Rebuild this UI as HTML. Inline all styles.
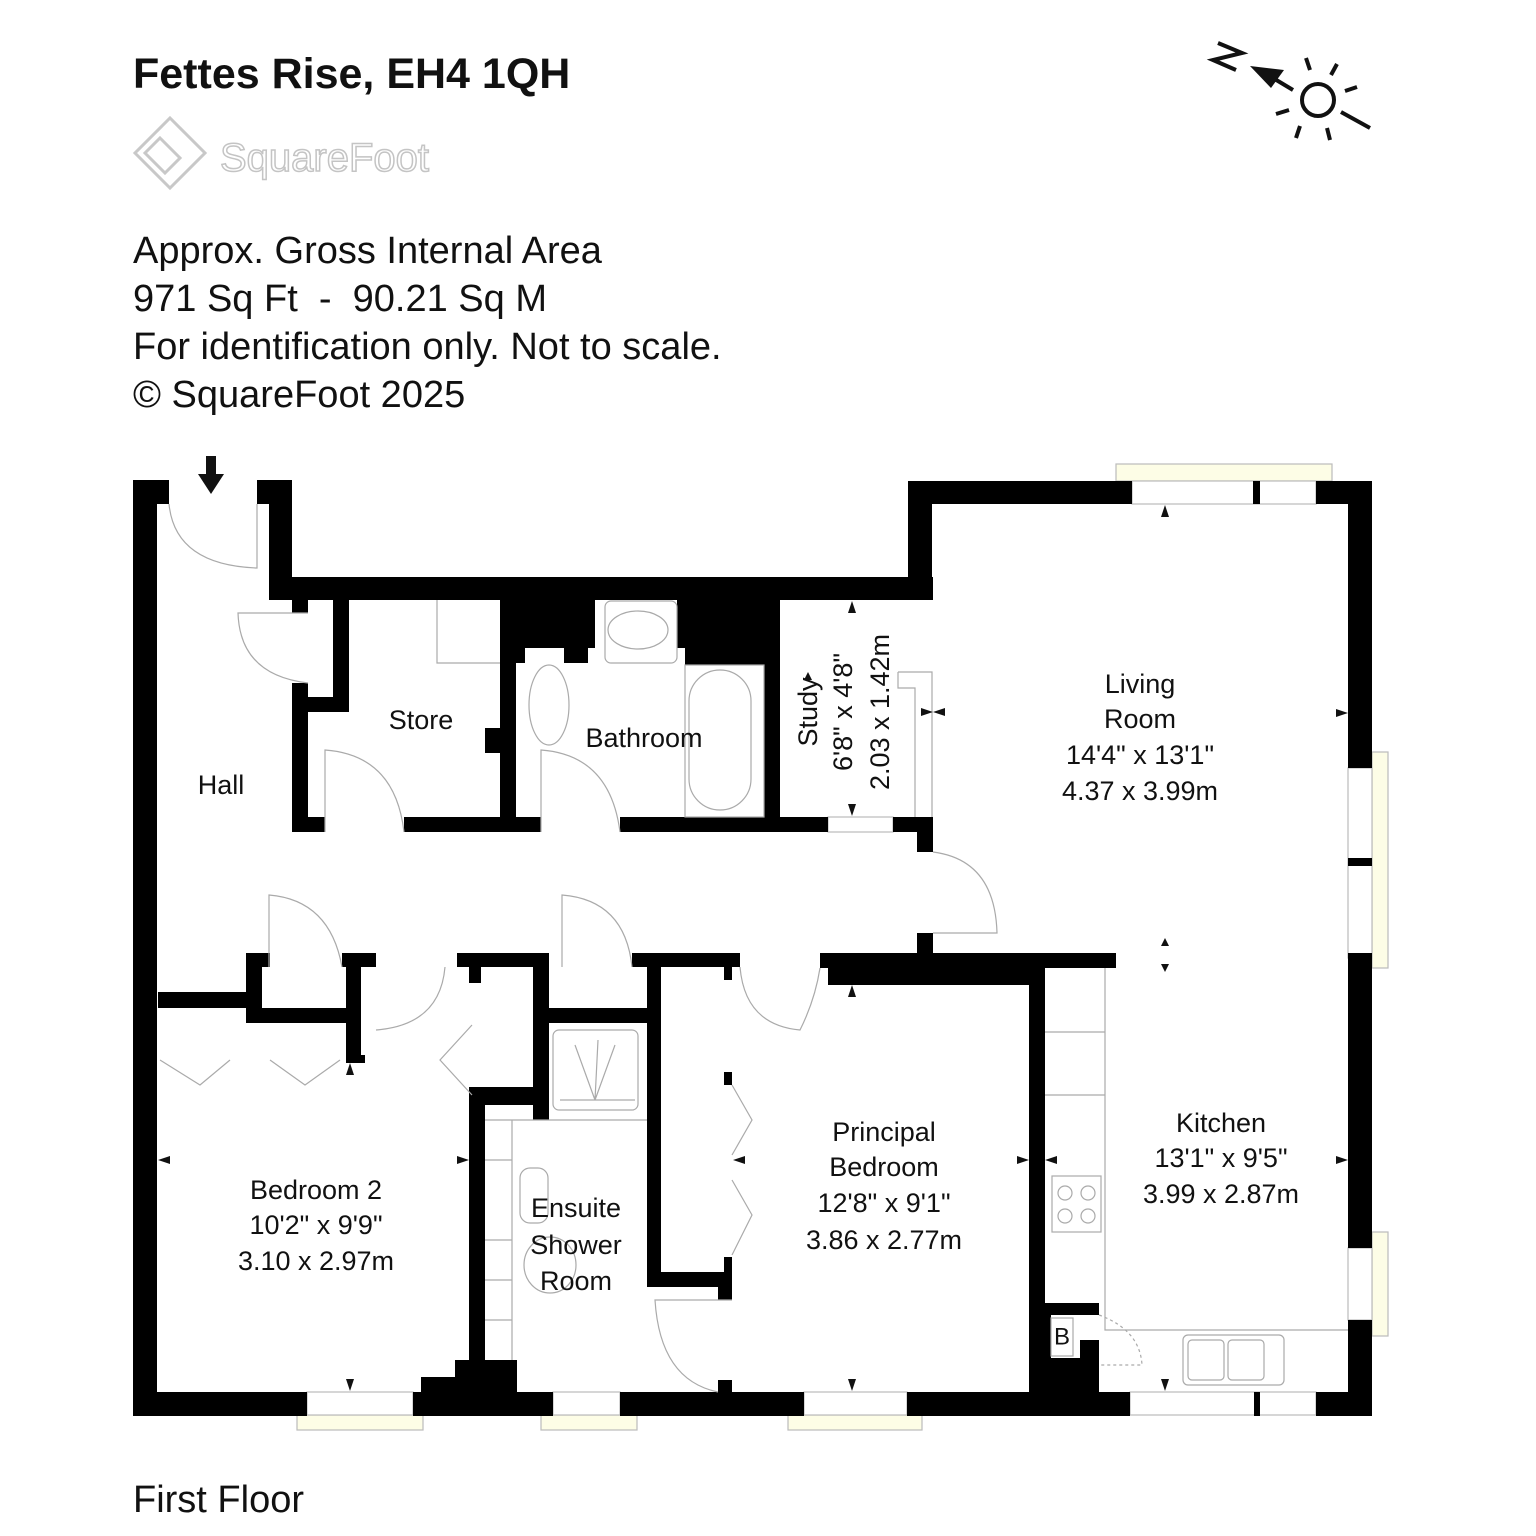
<!DOCTYPE html>
<html><head><meta charset="utf-8"><style>
html,body{margin:0;padding:0;background:#fff}
svg{display:block}
text{font-family:"Liberation Sans",sans-serif;fill:#111}
.r{font-size:27px;text-anchor:middle;dominant-baseline:central}
.h{font-size:38px}
.g{fill:none;stroke:#aaa;stroke-width:1.2}
</style></head><body>
<svg width="1536" height="1536" viewBox="0 0 1536 1536" xmlns="http://www.w3.org/2000/svg">
<rect width="1536" height="1536" fill="#fff"/>
<text x="133" y="88" style="font-size:43px;font-weight:bold">Fettes Rise, EH4 1QH</text>
<g fill="none" stroke="#c8c8c8" stroke-width="3">
<path d="M170 118 L205 153 L170 188 L135 153 Z"/><path d="M160 138 L180 158 L165 173 L145 153 Z"/>
</g>
<text x="220" y="171" style="font-size:40px;fill:#fff;stroke:#c4c4c4;stroke-width:1.5">SquareFoot</text>
<text x="133" y="263" class="h">Approx. Gross Internal Area</text>
<text x="133" y="311" class="h">971 Sq Ft &#160;- &#160;90.21 Sq M</text>
<text x="133" y="359" class="h">For identification only. Not to scale.</text>
<text x="133" y="407" class="h">© SquareFoot 2025</text>
<text x="133" y="1512" class="h">First Floor</text>
<g stroke="#111" stroke-width="4" fill="none">
<path d="M1218 43 L1242 53 L1213 60 L1236 70"/>
<line x1="1273" y1="78" x2="1293" y2="90"/>
<circle cx="1318" cy="100" r="16"/>
<line x1="1306" y1="58" x2="1310" y2="70"/><line x1="1337" y1="64" x2="1331" y2="75"/>
<line x1="1345" y1="91" x2="1357" y2="87"/><line x1="1276" y1="114" x2="1289" y2="110"/>
<line x1="1300" y1="126" x2="1296" y2="138"/><line x1="1327" y1="128" x2="1330" y2="140"/>
<line x1="1341" y1="112" x2="1370" y2="128"/>
</g>
<polygon points="1250,66 1284,70 1271,88" fill="#111"/>
<rect x="206" y="456" width="10" height="20" fill="#111"/><polygon points="198,474 224,474 211,494" fill="#111"/>
<g fill="#fdfde6" stroke="#bbb" stroke-width="1.2">
<rect x="1116" y="464" width="216" height="17"/>
<rect x="1372" y="752" width="16" height="216"/>
<rect x="1372" y="1232" width="16" height="104"/>
<rect x="297" y="1415" width="126" height="15"/>
<rect x="541" y="1415" width="96" height="15"/>
<rect x="788" y="1415" width="134" height="15"/>
</g>
<g fill="#fff" stroke="#bbb" stroke-width="1.2">
<rect x="1132" y="481" width="184" height="23"/>
<rect x="1348" y="768" width="24" height="190"/>
<rect x="1348" y="1248" width="24" height="72"/>
<rect x="307" y="1392" width="106" height="23"/>
<rect x="553" y="1392" width="67" height="23"/>
<rect x="804" y="1392" width="103" height="23"/>
<rect x="1130" y="1392" width="186" height="23"/>
<rect x="828" y="817" width="65" height="15"/>
</g>
<g fill="#000">
<rect x="133" y="480" width="24" height="936"/>
<rect x="133" y="480" width="36" height="24"/>
<rect x="257" y="480" width="35" height="24"/>
<rect x="269" y="480" width="23" height="120"/>
<rect x="269" y="577" width="664" height="23"/>
<rect x="908" y="481" width="24" height="119"/>
<rect x="908" y="481" width="224" height="23"/>
<rect x="1253" y="481" width="7" height="23"/>
<rect x="1316" y="481" width="56" height="23"/>
<rect x="1348" y="481" width="24" height="287"/>
<rect x="1348" y="858" width="24" height="8"/>
<rect x="1348" y="953" width="24" height="295"/>
<rect x="1348" y="1320" width="24" height="95"/>
<rect x="292" y="600" width="16" height="13"/>
<rect x="292" y="683" width="16" height="149"/>
<rect x="333" y="600" width="16" height="112"/>
<rect x="292" y="697" width="57" height="15"/>
<rect x="292" y="817" width="33" height="15"/>
<rect x="404" y="817" width="137" height="15"/>
<rect x="500" y="600" width="16" height="232"/>
<rect x="485" y="728" width="16" height="25"/>
<rect x="500" y="600" width="95" height="48"/>
<rect x="516" y="648" width="9" height="15"/>
<rect x="564" y="648" width="24" height="15"/>
<rect x="677" y="600" width="103" height="48"/>
<rect x="685" y="620" width="95" height="45"/>
<rect x="764" y="600" width="16" height="232"/>
<rect x="620" y="817" width="208" height="15"/>
<rect x="893" y="817" width="40" height="15"/>
<rect x="917" y="817" width="16" height="35"/>
<rect x="917" y="933" width="16" height="35"/>
<rect x="820" y="953" width="296" height="15"/>
<rect x="828" y="953" width="201" height="32"/>
<rect x="1029" y="968" width="16" height="425"/>
<rect x="158" y="992" width="88" height="16"/>
<rect x="246" y="953" width="24" height="14"/>
<rect x="342" y="953" width="34" height="14"/>
<rect x="246" y="953" width="16" height="70"/>
<rect x="246" y="1008" width="115" height="15"/>
<rect x="346" y="967" width="15" height="95"/>
<rect x="346" y="1055" width="19" height="8"/>
<rect x="457" y="953" width="76" height="14"/>
<rect x="469" y="967" width="12" height="16"/>
<rect x="533" y="953" width="16" height="167"/>
<rect x="469" y="1087" width="16" height="305"/>
<rect x="469" y="1087" width="64" height="18"/>
<rect x="533" y="1008" width="115" height="15"/>
<rect x="632" y="953" width="108" height="14"/>
<rect x="647" y="967" width="14" height="320"/>
<rect x="647" y="1272" width="85" height="15"/>
<rect x="718" y="1272" width="14" height="28"/>
<rect x="724" y="1072" width="8" height="13"/>
<rect x="724" y="1257" width="8" height="15"/>
<rect x="724" y="967" width="8" height="13"/>
<rect x="718" y="1380" width="14" height="12"/>
<rect x="1045" y="1303" width="54" height="12"/>
<rect x="1045" y="1303" width="6" height="60"/>
<rect x="1045" y="1358" width="54" height="35"/>
<rect x="1080" y="1340" width="19" height="20"/>
<rect x="133" y="1392" width="174" height="24"/>
<rect x="413" y="1392" width="140" height="24"/>
<rect x="421" y="1377" width="52" height="15"/>
<rect x="455" y="1360" width="62" height="32"/>
<rect x="620" y="1392" width="184" height="24"/>
<rect x="907" y="1392" width="223" height="24"/>
<rect x="1254" y="1392" width="6" height="24"/>
<rect x="1316" y="1392" width="56" height="24"/>
</g>
<g class="g">
<path d="M169 504 Q175 565 257 568 L257 504"/>
<path d="M308 613 L238 613 Q240 675 308 683"/>
<path d="M325 832 L325 750 Q395 755 404 832"/>
<path d="M541 832 L541 750 Q610 755 620 832"/>
<path d="M933 852 Q995 860 997 933 L933 933"/>
<path d="M269 967 L269 895 Q330 900 342 967"/>
<path d="M562 967 L562 895 Q625 900 632 967"/>
<path d="M376 1030 Q440 1025 445 967"/>
<path d="M740 967 Q745 1025 800 1030 Q815 1000 820 968"/>
<path d="M472 1025 L440 1060 L472 1095"/>
<path d="M160 1060 L200 1085 L230 1060 M270 1060 L305 1085 L340 1060"/>
<path d="M732 1085 L752 1120 L732 1155 M732 1180 L752 1215 L732 1255"/>
<path d="M732 1300 L655 1300 Q660 1380 718 1392"/>
<path d="M1099 1315 Q1140 1330 1142 1365 L1099 1365" stroke-dasharray="3,3"/>
<rect x="1051" y="1318" width="22" height="38"/>
<path d="M437 600 L437 663 L500 663"/>
<rect x="605" y="601" width="72" height="62" rx="6"/><ellipse cx="638" cy="630" rx="30" ry="19"/>
<rect x="685" y="665" width="79" height="152"/><rect x="689" y="670" width="62" height="140" rx="31"/>
<ellipse cx="549" cy="705" rx="20" ry="40"/>
<rect x="553" y="1030" width="85" height="80" rx="6"/>
<path d="M598 1040 L595 1100 L575 1045 M595 1100 L615 1045 M560 1100 L635 1100"/>
<line x1="485" y1="1120" x2="647" y2="1120"/>
<line x1="512" y1="1120" x2="512" y2="1360"/>
<rect x="520" y="1168" width="28" height="55" rx="10"/>
<ellipse cx="550" cy="1265" rx="26" ry="28"/>
<path d="M485 1160 H512 M485 1240 H512 M485 1280 H512 M485 1320 H512"/>
<path d="M898 672 H932 V817 M898 672 V688 H915 V817"/>
<path d="M1105 968 V1330 H1348 M1045 1032 H1105 M1045 1095 H1105"/>
<rect x="1052" y="1176" width="49" height="56"/>
<circle cx="1065" cy="1193" r="7"/><circle cx="1088" cy="1193" r="7"/><circle cx="1065" cy="1216" r="7"/><circle cx="1088" cy="1216" r="7"/>
<rect x="1183" y="1335" width="101" height="50" rx="5"/>
<rect x="1188" y="1340" width="36" height="40" rx="4"/><rect x="1228" y="1340" width="36" height="40" rx="4"/>
</g>
<g fill="#111">
<polygon points="1165,505 1161,517 1169,517"/>
<polygon points="1348,713 1336,709 1336,717"/>
<polygon points="1165,938 1161,946 1169,946"/><polygon points="1165,972 1161,964 1169,964"/>
<polygon points="852,601 848,613 856,613"/><polygon points="852,816 848,804 856,804"/>
<polygon points="933,712 945,708 945,716"/><polygon points="933,712 921,708 921,716"/>
<polygon points="808,672 804,680 812,680"/>
<polygon points="852,985 848,997 856,997"/><polygon points="852,1391 848,1379 856,1379"/>
<polygon points="350,1063 346,1075 354,1075"/><polygon points="350,1391 346,1379 354,1379"/>
<polygon points="158,1160 170,1156 170,1164"/><polygon points="469,1160 457,1156 457,1164"/>
<polygon points="733,1160 745,1156 745,1164"/><polygon points="1029,1160 1017,1156 1017,1164"/>
<polygon points="1045,1160 1057,1156 1057,1164"/><polygon points="1348,1160 1336,1156 1336,1164"/>
<polygon points="1165,1391 1161,1379 1169,1379"/>
</g>
<text class="r" x="421" y="720">Store</text>
<text class="r" x="644" y="738">Bathroom</text>
<text class="r" x="221" y="785">Hall</text>
<g transform="translate(845,712) rotate(-90)">
<text class="r" x="0" y="-37">Study</text>
<text class="r" x="0" y="-2">6'8" x 4'8"</text>
<text class="r" x="0" y="35">2.03 x 1.42m</text>
</g>
<text class="r" x="1140" y="684">Living</text>
<text class="r" x="1140" y="719">Room</text>
<text class="r" x="1140" y="755">14'4" x 13'1"</text>
<text class="r" x="1140" y="791">4.37 x 3.99m</text>
<text class="r" x="316" y="1190">Bedroom 2</text>
<text class="r" x="316" y="1225">10'2" x 9'9"</text>
<text class="r" x="316" y="1261">3.10 x 2.97m</text>
<text class="r" x="576" y="1208">Ensuite</text>
<text class="r" x="576" y="1245">Shower</text>
<text class="r" x="576" y="1281">Room</text>
<text class="r" x="884" y="1132">Principal</text>
<text class="r" x="884" y="1167">Bedroom</text>
<text class="r" x="884" y="1203">12'8" x 9'1"</text>
<text class="r" x="884" y="1240">3.86 x 2.77m</text>
<text class="r" x="1221" y="1123">Kitchen</text>
<text class="r" x="1221" y="1158">13'1" x 9'5"</text>
<text class="r" x="1221" y="1194">3.99 x 2.87m</text>
<text class="r" x="1062" y="1337" style="font-size:24px">B</text>
</svg>
</body></html>
